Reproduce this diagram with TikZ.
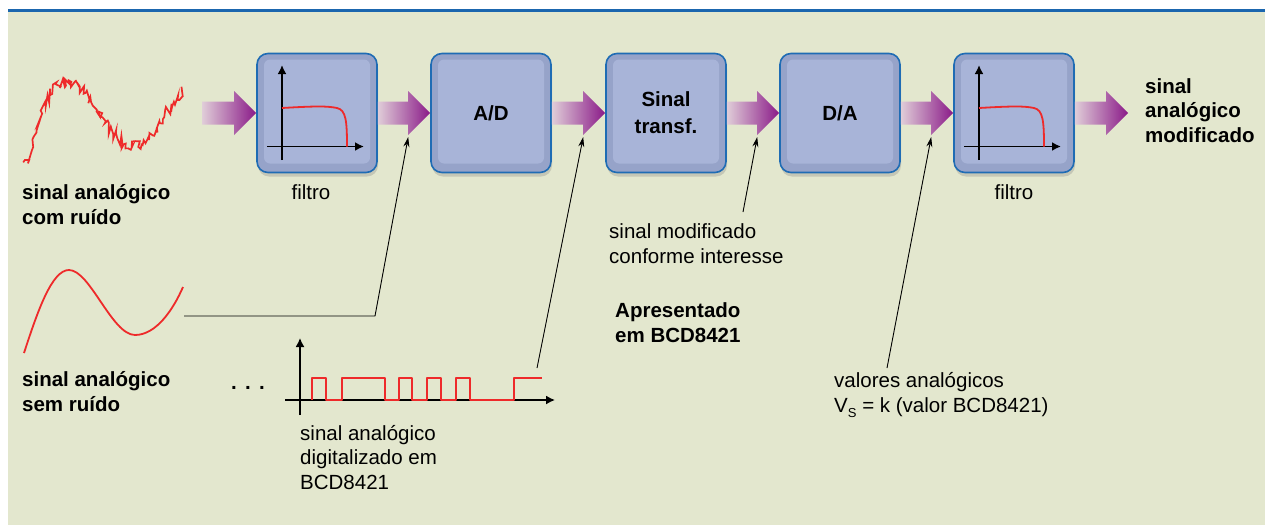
\documentclass[tikz,border=0pt]{standalone}
\usepackage{fontspec}
\setmainfont{Liberation Sans}
\usetikzlibrary{calc,shadows,arrows.meta}
\definecolor{bgpanel}{HTML}{E3E7CE}
\definecolor{topline}{HTML}{1B66AE}
\definecolor{boxedge}{HTML}{1F6CB4}
\definecolor{boxface}{HTML}{A8B4D8}
\definecolor{boxrim}{HTML}{96A3C9}
\definecolor{sigred}{HTML}{EE2A2A}
\definecolor{arrowpurple}{HTML}{8A1A88}
\definecolor{arrowpale}{HTML}{E0CDD8}
\begin{document}
\begin{tikzpicture}[x=1pt,y=-1pt,font=\fontsize{20.5}{24.5}\selectfont]
    \tikzset{
        block/.style={draw=boxedge,line width=1.6pt,fill=boxrim,rounded corners=11pt,
            minimum width=120pt,minimum height=119pt,font=\fontsize{20.5}{27}\selectfont\bfseries,align=center,
            drop shadow={shadow xshift=1pt,shadow yshift=-4pt,opacity=.3},
            path picture={\fill[boxface,rounded corners=6pt]
                ([shift={(7pt,-6pt)}]path picture bounding box.north west) rectangle
                ([shift={(-7pt,9pt)}]path picture bounding box.south east);}},
        note/.style={anchor=base west,align=left,inner sep=0pt},
        boldnote/.style={note,font=\fontsize{20.5}{24.5}\selectfont\bfseries},
        pointer/.style={-{Stealth[length=10pt,width=6pt]},line width=0.9pt},
        signal/.style={sigred,line width=1.8pt,line join=round},
        axis/.style={-{Latex[length=9pt,width=9pt]},line width=1.8pt},
    }
    \def\fatarrow#1#2#3{\shade[left color=arrowpale,right color=arrowpurple]
        ($(#1)+(0,-11.5)$) -- ($(#2)+(-22,-11.5)$) -- ($(#2)+(-22,-22)$) -- (#2)
        -- ($(#2)+(-22,22)$) -- ($(#2)+(-22,11.5)$) -- ($(#1)+(0,11.5)$) -- cycle;
        \coordinate (#3) at ($(#2)+(-22,24)$);}
    \def\filtgraph#1{\begin{scope}[shift={(#1)}]
        \draw[axis] (-35,47) -- (-35,-48);
        \draw[axis] (-50,33.5) -- (47,33.5);
        \draw[signal] (-35,-5) .. controls (0,-7) and (10,-7) .. (20,-5)
            .. controls (29,-3) and (30,8) .. (30,33.5);
        \end{scope}}
    \useasboundingbox (0,0) rectangle (1265,525);
    \fill[bgpanel] (8,9) rectangle (1265,525);
    \draw[topline,line width=3pt] (8,10.5) -- (1265,10.5);

    % blocks
    \node[block] (filt1) at (317,113) {};
    \node[block] (ad) at (491,113) {\raisebox{-3pt}{A/D}};
    \node[block] (tr) at (666,113) {Sinal\\transf.};
    \node[block] (da) at (840,113) {\raisebox{-3pt}{D/A}};
    \node[block] (filt2) at (1014,113) {};
    \filtgraph{filt1.center}
    \filtgraph{filt2.center}
    \node[anchor=base] at (311,199) {filtro};
    \node[anchor=base] at (1014,199) {filtro};

    % fat arrows
    \coordinate (in) at (202,113);
    \coordinate (out) at (1128,113);
    \fatarrow{in}{filt1.west}{tip0}
    \fatarrow{filt1.east}{ad.west}{tip1}
    \fatarrow{ad.east}{tr.west}{tip2}
    \fatarrow{tr.east}{da.west}{tip3}
    \fatarrow{da.east}{filt2.west}{tip4}
    \fatarrow{filt2.east}{out}{tip5}
    \node[boldnote] at (1145,142) {sinal\\analógico\\modificado};

    % input signals
    \pgfmathsetseed{5}
    \draw[signal,line width=1.7pt,line join=miter] plot[domain=25:183,samples=120,variable=\t]
        ({\t+2*rand},{114-32*sin(2.727*(\t-34))+40*exp(-((\t-25)/14)^2)+5.5*rand});
    \node[boldnote] at (22,224) {sinal analógico\\com ruído};
    \draw[signal] (24,353) .. controls (38,310) and (52,270) .. (69,270)
        .. controls (90,270) and (112,335) .. (135,335)
        .. controls (156,335) and (173,310) .. (183,287);
    \node[boldnote] at (22,411) {sinal analógico\\sem ruído};
    \coordinate (clean) at (184,316);
    \draw[pointer] (clean) -- (375,316) -- (tip1);

    % digital signal
    \node[anchor=base,font=\fontsize{20.5}{24.5}\selectfont\bfseries] (dots) at (248,389) {.\hspace{8.3pt}.\hspace{8.3pt}.};
    \draw[axis,line width=1.5pt] (300,415) -- (300,338);
    \draw[axis,line width=1.5pt] (285,400) -- (555,400);
    \draw[signal,line width=1.6pt] (312,400) -- (312,378) -- (326,378) -- (326,400) -- (342,400) -- (342,378)
        -- (385,378) -- (385,400) -- (399,400) -- (399,378) -- (412,378) -- (412,400) -- (427,400)
        -- (427,378) -- (441,378) -- (441,400) -- (456,400) -- (456,378) -- (470,378) -- (470,400)
        -- (514,400) -- (514,378) -- (542,378);
    \node[note] (digtxt) at (300,489) {sinal analógico\\digitalizado em\\BCD8421};
    \coordinate (digend) at (537,368);
    \draw[pointer] (digend) -- (tip2);

    % notes
    \node[note] (modtxt) at (609,263) {sinal modificado\\conforme interesse};
    \coordinate (modtop) at (743,212);
    \draw[pointer] (modtop) -- (tip3);
    \node[boldnote] (bcdtxt) at (615,342) {Apresentado\\em BCD8421};
    \node[note] (valtxt) at (834,412) {valores analógicos\\V\raisebox{-5pt}{\fontsize{13}{13}\selectfont S} = k (valor BCD8421)};
    \coordinate (valtop) at (887,368);
    \draw[pointer] (valtop) -- (tip4);
\end{tikzpicture}
\end{document}
